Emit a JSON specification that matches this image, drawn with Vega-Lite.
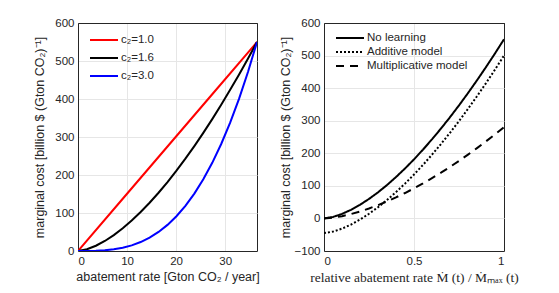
{
  "$schema": "https://vega.github.io/schema/vega-lite/v6.json",
  "background": "white",
  "padding": {"left": 33, "top": 16, "right": 5, "bottom": 5},
  "bounds": "flush",
  "spacing": 67,
  "datasets": {
    "left": [
      {"x": 0, "y": 0, "s": "c₂=1.0"},
      {"x": 9.125, "y": 137.5, "s": "c₂=1.0"},
      {"x": 18.25, "y": 275, "s": "c₂=1.0"},
      {"x": 27.375, "y": 412.5, "s": "c₂=1.0"},
      {"x": 36.5, "y": 550, "s": "c₂=1.0"},
      {"x": 0, "y": 0, "s": "c₂=1.6"},
      {"x": 1.825, "y": 4.6, "s": "c₂=1.6"},
      {"x": 3.65, "y": 13.8, "s": "c₂=1.6"},
      {"x": 5.475, "y": 26.4, "s": "c₂=1.6"},
      {"x": 7.3, "y": 41.9, "s": "c₂=1.6"},
      {"x": 9.125, "y": 59.9, "s": "c₂=1.6"},
      {"x": 10.95, "y": 80.1, "s": "c₂=1.6"},
      {"x": 12.775, "y": 102.5, "s": "c₂=1.6"},
      {"x": 14.6, "y": 127.0, "s": "c₂=1.6"},
      {"x": 16.425, "y": 153.3, "s": "c₂=1.6"},
      {"x": 18.25, "y": 181.4, "s": "c₂=1.6"},
      {"x": 20.075, "y": 211.3, "s": "c₂=1.6"},
      {"x": 21.9, "y": 242.9, "s": "c₂=1.6"},
      {"x": 23.725, "y": 276.1, "s": "c₂=1.6"},
      {"x": 25.55, "y": 310.8, "s": "c₂=1.6"},
      {"x": 27.375, "y": 347.1, "s": "c₂=1.6"},
      {"x": 29.2, "y": 384.9, "s": "c₂=1.6"},
      {"x": 31.025, "y": 424.1, "s": "c₂=1.6"},
      {"x": 32.85, "y": 464.7, "s": "c₂=1.6"},
      {"x": 34.675, "y": 506.6, "s": "c₂=1.6"},
      {"x": 36.5, "y": 550, "s": "c₂=1.6"},
      {"x": 0, "y": 0, "s": "c₂=3.0"},
      {"x": 1.825, "y": 0.07, "s": "c₂=3.0"},
      {"x": 3.65, "y": 0.55, "s": "c₂=3.0"},
      {"x": 5.475, "y": 1.86, "s": "c₂=3.0"},
      {"x": 7.3, "y": 4.4, "s": "c₂=3.0"},
      {"x": 9.125, "y": 8.6, "s": "c₂=3.0"},
      {"x": 10.95, "y": 14.85, "s": "c₂=3.0"},
      {"x": 12.775, "y": 23.6, "s": "c₂=3.0"},
      {"x": 14.6, "y": 35.2, "s": "c₂=3.0"},
      {"x": 16.425, "y": 50.1, "s": "c₂=3.0"},
      {"x": 18.25, "y": 68.75, "s": "c₂=3.0"},
      {"x": 20.075, "y": 91.5, "s": "c₂=3.0"},
      {"x": 21.9, "y": 118.8, "s": "c₂=3.0"},
      {"x": 23.725, "y": 151.0, "s": "c₂=3.0"},
      {"x": 25.55, "y": 188.65, "s": "c₂=3.0"},
      {"x": 27.375, "y": 232.0, "s": "c₂=3.0"},
      {"x": 29.2, "y": 281.6, "s": "c₂=3.0"},
      {"x": 31.025, "y": 337.8, "s": "c₂=3.0"},
      {"x": 32.85, "y": 400.95, "s": "c₂=3.0"},
      {"x": 34.675, "y": 471.6, "s": "c₂=3.0"},
      {"x": 36.5, "y": 550, "s": "c₂=3.0"}
    ],
    "right": [
      {"x": 0, "y": 0, "m": "No learning"},
      {"x": 0.05, "y": 4.6, "m": "No learning"},
      {"x": 0.1, "y": 13.8, "m": "No learning"},
      {"x": 0.15, "y": 26.4, "m": "No learning"},
      {"x": 0.2, "y": 41.9, "m": "No learning"},
      {"x": 0.25, "y": 59.9, "m": "No learning"},
      {"x": 0.3, "y": 80.1, "m": "No learning"},
      {"x": 0.35, "y": 102.5, "m": "No learning"},
      {"x": 0.4, "y": 127.0, "m": "No learning"},
      {"x": 0.45, "y": 153.3, "m": "No learning"},
      {"x": 0.5, "y": 181.4, "m": "No learning"},
      {"x": 0.55, "y": 211.3, "m": "No learning"},
      {"x": 0.6, "y": 242.9, "m": "No learning"},
      {"x": 0.65, "y": 276.1, "m": "No learning"},
      {"x": 0.7, "y": 310.8, "m": "No learning"},
      {"x": 0.75, "y": 347.1, "m": "No learning"},
      {"x": 0.8, "y": 384.9, "m": "No learning"},
      {"x": 0.85, "y": 424.1, "m": "No learning"},
      {"x": 0.9, "y": 464.7, "m": "No learning"},
      {"x": 0.95, "y": 506.6, "m": "No learning"},
      {"x": 1, "y": 550, "m": "No learning"},
      {"x": 0, "y": -45, "m": "Additive model"},
      {"x": 0.05, "y": -40.5, "m": "Additive model"},
      {"x": 0.1, "y": -31.3, "m": "Additive model"},
      {"x": 0.15, "y": -18.8, "m": "Additive model"},
      {"x": 0.2, "y": -3.5, "m": "Additive model"},
      {"x": 0.25, "y": 14.3, "m": "Additive model"},
      {"x": 0.3, "y": 34.4, "m": "Additive model"},
      {"x": 0.35, "y": 56.6, "m": "Additive model"},
      {"x": 0.4, "y": 80.8, "m": "Additive model"},
      {"x": 0.45, "y": 106.9, "m": "Additive model"},
      {"x": 0.5, "y": 134.8, "m": "Additive model"},
      {"x": 0.55, "y": 164.4, "m": "Additive model"},
      {"x": 0.6, "y": 195.7, "m": "Additive model"},
      {"x": 0.65, "y": 228.6, "m": "Additive model"},
      {"x": 0.7, "y": 263.0, "m": "Additive model"},
      {"x": 0.75, "y": 298.9, "m": "Additive model"},
      {"x": 0.8, "y": 336.4, "m": "Additive model"},
      {"x": 0.85, "y": 375.2, "m": "Additive model"},
      {"x": 0.9, "y": 415.4, "m": "Additive model"},
      {"x": 0.95, "y": 457.0, "m": "Additive model"},
      {"x": 1, "y": 500, "m": "Additive model"},
      {"x": 0, "y": 0, "m": "Multiplicative model"},
      {"x": 0.05, "y": 2.3, "m": "Multiplicative model"},
      {"x": 0.1, "y": 7.0, "m": "Multiplicative model"},
      {"x": 0.15, "y": 13.5, "m": "Multiplicative model"},
      {"x": 0.2, "y": 21.3, "m": "Multiplicative model"},
      {"x": 0.25, "y": 30.5, "m": "Multiplicative model"},
      {"x": 0.3, "y": 40.8, "m": "Multiplicative model"},
      {"x": 0.35, "y": 52.2, "m": "Multiplicative model"},
      {"x": 0.4, "y": 64.6, "m": "Multiplicative model"},
      {"x": 0.45, "y": 78.0, "m": "Multiplicative model"},
      {"x": 0.5, "y": 92.4, "m": "Multiplicative model"},
      {"x": 0.55, "y": 107.6, "m": "Multiplicative model"},
      {"x": 0.6, "y": 123.7, "m": "Multiplicative model"},
      {"x": 0.65, "y": 140.5, "m": "Multiplicative model"},
      {"x": 0.7, "y": 158.2, "m": "Multiplicative model"},
      {"x": 0.75, "y": 176.7, "m": "Multiplicative model"},
      {"x": 0.8, "y": 195.9, "m": "Multiplicative model"},
      {"x": 0.85, "y": 215.9, "m": "Multiplicative model"},
      {"x": 0.9, "y": 236.6, "m": "Multiplicative model"},
      {"x": 0.95, "y": 257.9, "m": "Multiplicative model"},
      {"x": 1, "y": 280, "m": "Multiplicative model"}
    ]
  },
  "config": {
    "font": "Liberation Sans",
    "view": {"stroke": "#262626", "strokeWidth": 1},
    "axis": {
      "domain": true,
      "domainColor": "#262626",
      "domainWidth": 1,
      "ticks": false,
      "grid": true,
      "gridColor": "#e6e6e6",
      "gridWidth": 1,
      "labelFont": "Liberation Sans",
      "labelFontSize": 11.5,
      "labelColor": "#262626",
      "titleFont": "Liberation Sans",
      "titleFontSize": 12.5,
      "titleFontWeight": "normal",
      "titleColor": "#262626",
      "labelPadding": 4,
      "titlePadding": 4
    },
    "legend": {
      "orient": "none",
      "title": null,
      "symbolType": "stroke",
      "symbolSize": 784,
      "symbolStrokeWidth": 2,
      "labelFont": "Liberation Sans",
      "labelFontSize": 11.5,
      "labelColor": "#262626",
      "labelOffset": 2,
      "padding": 0
    }
  },
  "hconcat": [
    {
      "width": 179,
      "height": 228,
      "data": {"name": "left"},
      "mark": {"type": "line", "strokeWidth": 2, "clip": true},
      "encoding": {
        "x": {
          "field": "x",
          "type": "quantitative",
          "scale": {"domain": [0, 36.5], "nice": false, "zero": false},
          "axis": {"values": [0, 10, 20, 30], "title": "abatement rate [Gton CO₂ / year]"}
        },
        "y": {
          "field": "y",
          "type": "quantitative",
          "scale": {"domain": [0, 600], "nice": false},
          "axis": {
            "values": [0, 100, 200, 300, 400, 500, 600],
            "title": "marginal cost [billion $ (Gton CO₂)⁻¹]",
            "titlePadding": 8,
            "gridColor": {"condition": {"test": "datum.value === 600", "value": "#262626"}, "value": "#e6e6e6"}
          }
        },
        "color": {
          "field": "s",
          "type": "nominal",
          "scale": {"domain": ["c₂=1.0", "c₂=1.6", "c₂=3.0"], "range": ["#ff0000", "#000000", "#0000ff"]},
          "legend": {"legendX": 11, "legendY": 9, "rowPadding": 2, "clipHeight": 16}
        }
      }
    },
    {
      "width": 180,
      "height": 228,
      "data": {"name": "right"},
      "mark": {"type": "line", "strokeWidth": 2, "color": "black", "clip": true},
      "encoding": {
        "x": {
          "field": "x",
          "type": "quantitative",
          "scale": {"domain": [0, 1], "nice": false},
          "axis": {
            "values": [0, 0.5, 1],
            "format": "~g",
            "title": "relative abatement rate Ṁ (t) / Ṁₘₐₓ (t)",
            "titleFont": "Liberation Serif",
            "titleFontSize": 13.5,
            "gridColor": {"condition": {"test": "datum.value === 1", "value": "#262626"}, "value": "#e6e6e6"}
          }
        },
        "y": {
          "field": "y",
          "type": "quantitative",
          "scale": {"domain": [-100, 600], "nice": false, "zero": false},
          "axis": {
            "values": [-100, 0, 100, 200, 300, 400, 500, 600],
            "title": "marginal cost [billion $ (Gton CO₂)⁻¹]",
            "titlePadding": 2,
            "gridColor": {"condition": {"test": "datum.value === 600", "value": "#262626"}, "value": "#e6e6e6"}
          }
        },
        "strokeDash": {
          "field": "m",
          "type": "nominal",
          "scale": {"domain": ["No learning", "Additive model", "Multiplicative model"], "range": [[1, 0], [2, 2], [8, 6]]},
          "legend": {"legendX": 257, "legendY": 8, "rowPadding": 0, "clipHeight": 14}
        }
      }
    }
  ]
}
